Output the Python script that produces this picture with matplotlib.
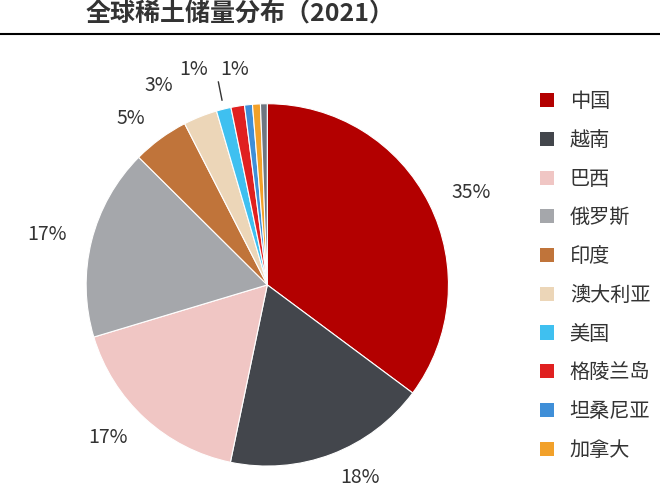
import matplotlib.pyplot as plt
from matplotlib.patches import Patch

plt.rcParams['font.family'] = ['Noto Sans CJK SC', 'Noto Sans CJK JP', 'Noto Sans CJK TC', 'DejaVu Sans']

countries = ['中国', '越南', '巴西', '俄罗斯', '印度', '澳大利亚', '美国', '格陵兰岛', '坦桑尼亚', '加拿大', '其他']
shares = [35, 18, 17, 17, 5, 3, 1.3, 1.2, 0.7, 0.7, 0.6]
labels = ['35%', '18%', '17%', '17%', '5%', '3%', '1%', '1%', '', '', '']
colors = ['#b30000', '#43464c', '#f0c6c4', '#a5a7ab', '#c0743a', '#ecd6b8',
          '#3fc0f0', '#e02020', '#3f8fd8', '#f2a12a', '#6e7781']

fig = plt.figure(figsize=(6.6, 4.87), dpi=100)
ax = fig.add_axes([0.0, -0.05, 0.81, 0.93])
wedges, texts = ax.pie(shares, colors=colors, startangle=90, counterclock=False,
                       labels=labels, labeldistance=1.14,
                       wedgeprops=dict(edgecolor='white', linewidth=0.8),
                       textprops=dict(fontsize=14, color='#333333'))
# small slices: nudge labels
texts[6].set_position((-0.33, 1.19))
texts[7].set_position((-0.1, 1.19))
texts[5].set_position((-0.52, 1.1))
ax.plot([-0.25, -0.27], [1.02, 1.12], color='#333333', lw=1)
ax.set_aspect('equal')

fig.text(0.13, 0.97, '全球稀土储量分布（2021）', fontsize=18, fontweight='bold',
         color='#333333', va='center', ha='left')
fig.add_artist(plt.Line2D([0, 1], [0.93, 0.93], color='black', lw=1.5))

handles = [Patch(facecolor=c) for c in colors[:10]]
fig.legend(handles, countries[:10], loc='upper left', bbox_to_anchor=(0.79, 0.85),
           frameon=False, fontsize=14.5, handlelength=0.7, handleheight=0.7,
           labelspacing=0.88, labelcolor='#333333')

fig.savefig('out.png', dpi=100)
